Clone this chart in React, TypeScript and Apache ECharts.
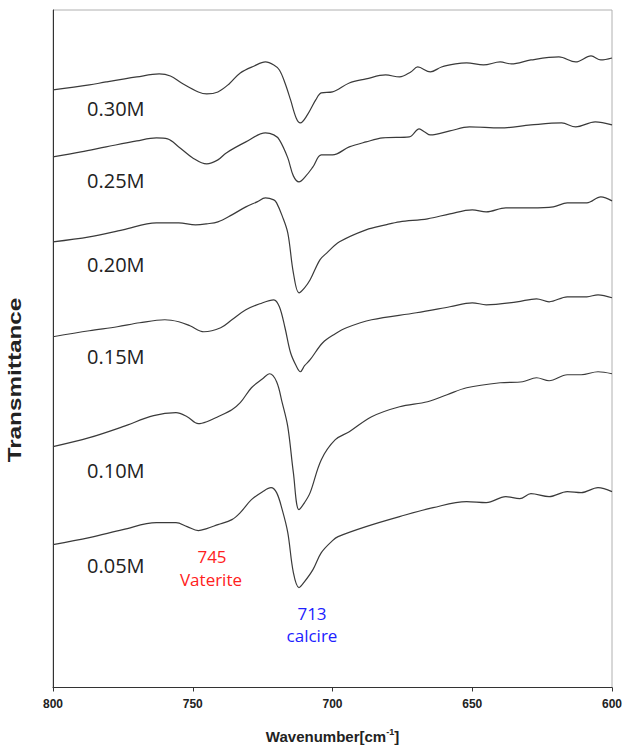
import React, { useEffect, useRef } from "react";
import * as echarts from "echarts";

// Wavenumber axis ticks (cm^-1), drawn reversed 800 -> 600
const xTicks = [800, 750, 700, 650, 600];

// Sample labels (top to bottom)
const concentrations = ["0.30M", "0.25M", "0.20M", "0.15M", "0.10M", "0.05M"];

// Offset transmittance traces: [wavenumber, transmittance (arbitrary, stacked)]
const s030: [number, number][] = [
  [800, 598], [787, 603], [781, 606], [770, 611], [762, 614], [758, 612], [754, 605], [748, 596], [745, 594],
  [741, 596], [737, 604], [733, 615], [728, 622], [724, 626], [721, 623], [719, 618], [717, 605],
  [715, 588], [713, 570], [711.5, 565], [709, 573], [706, 588], [704, 595], [700, 596], [694, 605],
  [688, 609], [681, 613], [676, 611], [672, 616], [669.5, 621], [665, 616], [661, 621], [656, 624],
  [652, 625], [646, 623], [640, 626], [636, 624], [629, 628], [619, 631], [613, 626], [607.5, 632],
  [604, 628], [600, 630],
];
const s025: [number, number][] = [
  [800, 531], [790, 536], [781, 541], [770, 547], [763, 550], [759, 549], [755, 541], [750, 530],
  [745, 524], [741, 528], [738, 535], [731, 546], [724, 555], [721, 553], [719, 548], [716, 530],
  [714, 512], [712, 506], [709.5, 512], [707, 521], [704, 533], [700, 533], [694, 541], [688, 546],
  [682, 550], [672.5, 551], [669, 559], [667, 556], [665, 553], [658, 557], [651, 561], [640, 560],
  [629, 563], [618, 565], [613, 561], [606, 566], [600, 563],
];
const s020: [number, number][] = [
  [800, 446], [787, 451], [775, 458], [763, 465], [755, 465], [749, 463], [745, 464], [741, 466],
  [736, 473], [731, 481], [727, 486], [724, 490], [721, 488], [720, 485], [718, 472], [716, 455],
  [714, 415], [712, 395], [710, 400], [708, 408], [704.5, 428], [702, 435], [697.5, 446], [688, 458],
  [681, 463], [676, 466], [666, 469], [658, 474], [650, 478], [645, 476], [638, 480], [629, 480],
  [621, 481], [616, 485], [609, 485], [604, 491], [600, 487],
];
const s015: [number, number][] = [
  [800, 351], [787, 357], [777, 361], [769, 365], [760, 368], [755, 366], [751, 362], [746, 356],
  [740, 360], [736, 368], [731, 378], [726, 384], [721, 388], [719, 381], [717, 360], [715, 335],
  [713, 322], [711.5, 316], [710, 322], [708, 328], [703.5, 345], [699, 354], [695, 360], [686, 368],
  [670, 375], [658, 381], [650, 385], [645, 383], [634, 386], [627, 389], [622.5, 386], [616, 391],
  [609, 391], [605, 393], [600, 390],
];
const s010: [number, number][] = [
  [800, 241], [787, 250], [775, 261], [764, 272], [756, 275], [752, 271], [748, 264], [745, 266],
  [741, 271], [736, 278], [733, 285], [729, 300], [725, 309], [722.5, 314], [720, 306], [718, 285],
  [716, 261], [714, 215], [712, 178], [710, 185], [708, 195], [704, 228], [699, 248], [694, 256],
  [686, 271], [676, 281], [666, 286], [659, 293], [652, 300], [640, 305], [632, 306], [627, 310],
  [622.5, 307], [616, 313], [611, 313], [605, 316], [600, 314],
];
const s005: [number, number][] = [
  [800, 143], [787, 150], [775, 158], [763, 165], [756, 165], [752, 161], [748, 157], [745, 159],
  [741, 163], [736, 168], [733, 175], [729, 188], [725, 196], [722, 200], [720, 195], [718, 178],
  [716, 155], [714, 115], [712, 100], [710, 106], [707, 118], [704, 135], [700, 147], [698, 151],
  [688, 161], [676, 171], [664, 180], [652, 186], [645, 185], [638, 191], [633, 189], [629, 194],
  [622.5, 191], [616, 196], [611, 195], [605, 200], [600, 196],
];
const traces = [s030, s025, s020, s015, s010, s005];

// Label rows for curve names
const labelY = [108, 180, 264, 356, 470, 565];

export default function App() {
  const ref = useRef<HTMLDivElement>(null);
  useEffect(() => {
    if (!ref.current) return;
    const chart = echarts.init(ref.current, null, { renderer: "svg" });
    const bold = '"Liberation Sans", Arial, sans-serif';
    const label = '"Open Sans", "Noto Sans", sans-serif';
    chart.setOption({
      animation: false,
      backgroundColor: "#ffffff",
      grid: {
        left: 53,
        right: 15,
        top: 10,
        bottom: 61,
        show: true,
        borderColor: "#b0b0b0",
        borderWidth: 1,
      },
      xAxis: {
        type: "value",
        min: 600,
        max: 800,
        interval: 50,
        inverse: true,
        splitLine: { show: false },
        axisLine: { lineStyle: { color: "#333", width: 1 } },
        axisTick: { show: true, length: 4, lineStyle: { color: "#333" } },
        axisLabel: {
          margin: 10,
          fontSize: 12,
          fontWeight: "bold",
          fontFamily: bold,
          color: "#222",
          formatter: (v: number) => (xTicks.includes(v) ? String(v) : ""),
        },
        name: "{b|Wavenumber[cm}{s|-1}{b|]}",
        nameLocation: "middle",
        nameGap: 40,
        nameTextStyle: {
          rich: {
            b: { fontSize: 15, fontWeight: "bold", fontFamily: bold, color: "#222", lineHeight: 18 },
            s: { fontSize: 9, fontWeight: "bold", fontFamily: bold, color: "#222", lineHeight: 9, verticalAlign: "top" },
          },
        },
      },
      yAxis: {
        type: "value",
        min: 0,
        max: 678,
        splitLine: { show: false },
        axisLine: { show: true, lineStyle: { color: "#333", width: 1 } },
        axisTick: { show: false },
        axisLabel: { show: false },
      },
      series: traces.map((d, i) => ({
        name: concentrations[i],
        type: "line",
        data: d,
        showSymbol: false,
        smooth: 0.35,
        lineStyle: { color: "#3a3a3a", width: 1.2 },
      })),
      graphic: [
        {
          type: "text",
          x: 15,
          y: 380,
          rotation: Math.PI / 2,
          scaleX: 1.35,
          style: {
            text: "Transmittance",
            font: `bold 18px ${bold}`,
            fill: "#222",
            align: "center",
            verticalAlign: "middle",
          },
        },
        ...concentrations.map((c, i) => ({
          type: "text",
          x: 87,
          y: labelY[i],
          style: {
            text: c,
            font: `20px ${label}`,
            fill: "#222",
            align: "left",
            verticalAlign: "middle",
          },
        })),
        {
          type: "text",
          x: 212,
          y: 556,
          style: { text: "745", font: `17px ${label}`, fill: "#ff2020", align: "center", verticalAlign: "middle" },
        },
        {
          type: "text",
          x: 211,
          y: 579,
          style: { text: "Vaterite", font: `17px ${label}`, fill: "#ff2020", align: "center", verticalAlign: "middle" },
        },
        {
          type: "text",
          x: 312,
          y: 613,
          style: { text: "713", font: `17px ${label}`, fill: "#2020ff", align: "center", verticalAlign: "middle" },
        },
        {
          type: "text",
          x: 312,
          y: 635,
          style: { text: "calcire", font: `17px ${label}`, fill: "#2020ff", align: "center", verticalAlign: "middle" },
        },
      ],
    });
    return () => chart.dispose();
  }, []);
  return (
    <div
      ref={ref}
      style={{ position: "fixed", left: 0, top: 0, width: 627, height: 749, background: "#fff" }}
    />
  );
}
